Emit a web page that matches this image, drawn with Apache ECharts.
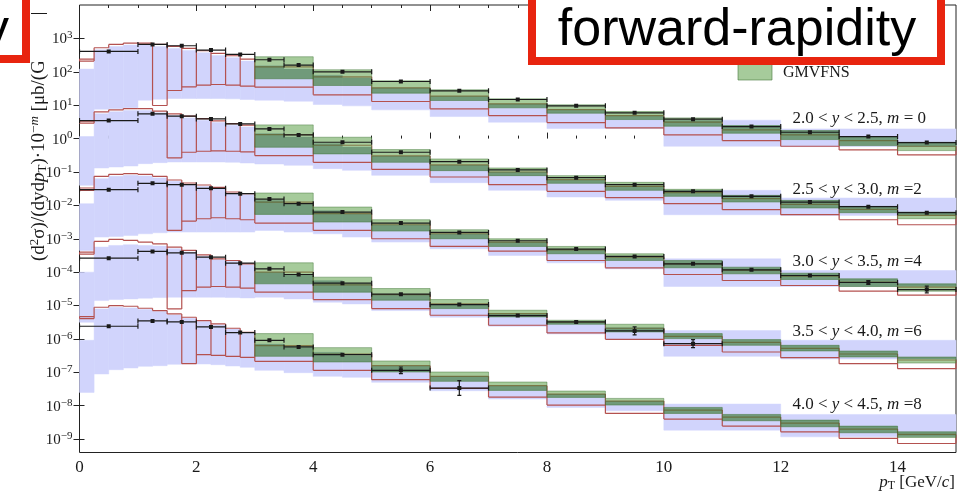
<!DOCTYPE html>
<html><head><meta charset="utf-8">
<script src="https://cdn.jsdelivr.net/npm/echarts@6/dist/echarts.min.js"></script>
<style>html,body{margin:0;padding:0;background:#fff;}#c{width:968px;height:493px;}</style>
</head><body><div id="c"></div>
<script>
// ---------------- values (log10 of σ·10^-m) ----------------
const xTickLabels = [0, 2, 4, 6, 8, 10, 12, 14];
const yTickExponents = [-9, -8, -7, -6, -5, -4, -3, -2, -1, 0, 1, 2, 3];

const dataEdges  = [0,1,1.5,2,2.5,3,3.5,4,5,6,7,8,9,10,11,12,13,14,15];
const redEdges   = [0,0.25,0.5,0.75,1,1.25,1.5,1.75,2,2.25,2.5,2.75,3,4,5,6,7,8,9,10,11,12,13,14,15];
const blueEdges  = [0,0.25,0.5,0.75,1,1.25,1.5,1.75,2,2.25,2.5,2.75,3,3.5,4,4.5,5,6,7,8,9,10,12,15];
const greenEdges = [3,4,5,6,7,8,9,10,11,12,13,14,15];

const rapidityLabels = [
  '2.0 < {i|y} < 2.5, {i|m} = 0',
  '2.5 < {i|y} < 3.0, {i|m} =2',
  '3.0 < {i|y} < 3.5, {i|m} =4',
  '3.5 < {i|y} < 4.0, {i|m} =6',
  '4.0 < {i|y} < 4.5, {i|m} =8'
];

// measured points (log10), one per data bin
const dataY20 = [2.61, 2.82, 2.78, 2.65, 2.52, 2.36, 2.20, 2.00, 1.71, 1.43, 1.17, 0.98, 0.77, 0.58, 0.36, 0.19, 0.06, -0.12];
const dataY25 = [0.54, 0.74, 0.67, 0.59, 0.44, 0.29, 0.11, -0.11, -0.41, -0.69, -0.94, -1.17, -1.38, -1.58, -1.73, -1.90, -2.04, -2.22];
const dataY30 = [-1.53, -1.34, -1.38, -1.49, -1.65, -1.81, -1.95, -2.20, -2.53, -2.81, -3.06, -3.31, -3.53, -3.75, -3.93, -4.10, -4.31, -4.52];
const dataY35 = [-3.58, -3.38, -3.42, -3.55, -3.73, -3.90, -4.07, -4.33, -4.66, -4.97, -5.30, -5.49, -5.76, -6.14];
const dataY40 = [-5.62, -5.46, -5.49, -5.64, -5.81, -6.04, -6.24, -6.47, -6.94, -7.47];
// error half-widths (decades)
const errY20 = [0.02,0.02,0.02,0.02,0.02,0.02,0.02,0.02,0.02,0.02,0.02,0.02,0.02,0.02,0.02,0.02,0.02,0.02];
const errY25 = [0.02,0.02,0.02,0.02,0.02,0.02,0.02,0.02,0.02,0.02,0.02,0.02,0.02,0.02,0.02,0.03,0.03,0.03];
const errY30 = [0.02,0.02,0.02,0.02,0.02,0.02,0.02,0.02,0.02,0.02,0.02,0.03,0.03,0.03,0.04,0.04,0.06,0.10];
const errY35 = [0.02,0.02,0.02,0.02,0.02,0.02,0.02,0.03,0.03,0.03,0.04,0.05,0.12,0.12];
const errY40 = [0.02,0.02,0.02,0.02,0.02,0.03,0.03,0.05,0.10,0.22];

// red step/box prediction: top and bottom per redEdges bin (null = no lower edge)
const redTopY20 = [2.38, 2.72, 2.82, 2.86, 2.86, 2.82, 2.76, 2.70, 2.63, 2.55, 2.48, 2.38, 2.15, 1.85, 1.52, 1.27, 1.04, 0.87, 0.69, 0.49, 0.26, 0.11, -0.06, -0.23];
const redBotY20 = [2.32, null, null, null, null, 0.99, 1.44, 1.55, 1.60, 1.62, 1.60, 1.57, 1.54, 1.31, 1.11, 0.89, 0.69, 0.48, 0.32, 0.11, -0.06, -0.23, -0.34, -0.49];
const redTopY25 = [0.52, 0.80, 0.86, 0.90, 0.90, 0.82, 0.74, 0.67, 0.60, 0.53, 0.45, 0.40, 0.12, -0.20, -0.52, -0.79, -1.00, -1.23, -1.43, -1.62, -1.80, -1.97, -2.12, -2.30];
const redBotY25 = [0.46, null, null, null, null, null, -0.58, -0.41, -0.38, -0.37, -0.38, -0.40, -0.51, -0.71, -0.92, -1.15, -1.38, -1.58, -1.77, -1.95, -2.13, -2.28, -2.43, -2.58];
const redTopY30 = [-1.48, -1.13, -1.07, -1.05, -1.07, -1.13, -1.24, -1.33, -1.39, -1.46, -1.60, -1.65, -1.90, -2.25, -2.58, -2.85, -3.10, -3.33, -3.55, -3.75, -3.94, -4.12, -4.30, -4.45];
const redBotY30 = [-1.55, null, null, null, null, null, -2.75, -2.47, -2.40, -2.37, -2.40, -2.43, -2.53, -2.75, -3.00, -3.23, -3.37, -3.65, -3.87, -4.07, -4.25, -4.40, -4.57, -4.69];
const redTopY35 = [-3.40, -3.08, -3.02, -3.05, -3.10, -3.15, -3.25, -3.35, -3.48, -3.60, -3.65, -3.75, -4.00, -4.38, -4.67, -4.95, -5.24, -5.50, -5.68, -5.92, -6.10, -6.28, -6.45, -6.63];
const redBotY35 = [-3.46, null, null, null, null, null, -5.10, -4.55, -4.45, -4.43, -4.45, -4.48, -4.60, -4.82, -5.09, -5.29, -5.59, -5.82, -6.01, -6.19, -6.39, -6.56, -6.74, -6.89];
const redTopY40 = [-5.33, -5.05, -5.00, -5.02, -5.08, -5.15, -5.25, -5.35, -5.45, -5.55, -5.68, -5.80, -6.20, -6.45, -6.80, -7.12, -7.40, -7.65, -7.86, -8.13, -8.34, -8.52, -8.70, -8.86];
const redBotY40 = [-5.39, null, null, null, null, null, null, -6.74, -6.47, -6.49, -6.52, -6.55, -6.67, -6.94, -7.22, -7.48, -7.74, -7.98, -8.23, -8.40, -8.61, -8.78, -8.98, -9.13];

// blue band: lower / upper edge per blueEdges bin
const blueHiY20 = [2.08, 2.66, 2.76, 2.80, 2.80, 2.76, 2.70, 2.64, 2.57, 2.49, 2.42, 2.32, 2.18, 2.08, 1.90, 1.82, 1.52, 1.27, 1.04, 0.87, 0.69, 0.55, 0.29];
const blueLoY20 = [0.54, 0.88, 0.90, 0.92, 1.15, 1.18, 1.20, 1.20, 1.20, 1.20, 1.19, 1.17, 1.15, 1.12, 1.02, 0.98, 0.86, 0.66, 0.49, 0.30, 0.30, -0.23, -0.24];
const blueHiY25 = [0.06, 0.74, 0.80, 0.84, 0.84, 0.77, 0.69, 0.62, 0.55, 0.48, 0.40, 0.35, 0.15, 0.05, -0.15, -0.25, -0.52, -0.79, -1.00, -1.23, -1.43, -1.55, -1.78];
const blueLoY25 = [-1.40, -0.88, -0.85, -0.82, -0.75, -0.72, -0.70, -0.70, -0.70, -0.70, -0.71, -0.73, -0.76, -0.80, -0.90, -0.95, -1.10, -1.32, -1.55, -1.75, -1.85, -2.28, -2.30];
const blueHiY30 = [-1.95, -1.20, -1.13, -1.10, -1.12, -1.18, -1.28, -1.37, -1.43, -1.50, -1.63, -1.68, -1.85, -1.97, -2.15, -2.25, -2.58, -2.85, -3.10, -3.33, -3.55, -3.60, -3.95];
const blueLoY30 = [-3.35, -2.95, -2.93, -2.90, -2.85, -2.82, -2.80, -2.80, -2.80, -2.80, -2.80, -2.80, -2.75, -2.80, -2.85, -2.95, -3.10, -3.30, -3.50, -3.72, -3.90, -4.43, -4.43];
const blueHiY35 = [-4.00, -3.25, -3.20, -3.18, -3.20, -3.22, -3.30, -3.40, -3.52, -3.63, -3.68, -3.78, -4.00, -4.08, -4.25, -4.35, -4.67, -4.95, -5.24, -5.48, -5.66, -5.75, -6.04];
const blueLoY35 = [-5.50, -4.85, -4.82, -4.80, -4.78, -4.76, -4.75, -4.75, -4.75, -4.75, -4.76, -4.77, -4.75, -4.80, -4.90, -4.95, -5.15, -5.35, -5.62, -5.85, -6.00, -6.52, -6.60];
const blueHiY40 = [-6.04, -5.10, -5.05, -5.07, -5.12, -5.18, -5.28, -5.38, -5.48, -5.58, -5.70, -5.83, -6.15, -6.25, -6.40, -6.50, -6.80, -7.12, -7.40, -7.65, -7.86, -7.95, -8.26];
const blueLoY40 = [-7.60, -7.05, -6.92, -6.87, -6.82, -6.80, -6.76, -6.74, -6.75, -6.77, -6.81, -6.85, -6.94, -7.01, -7.12, -7.15, -7.30, -7.55, -7.80, -8.05, -8.15, -8.73, -8.93];

// GMVFNS green band: lower / upper edge per greenEdges bin
const greenLoY20 = [1.79, 1.59, 1.36, 1.14, 0.92, 0.76, 0.57, 0.37, 0.16, -0.03, -0.21, -0.36];
const greenHiY20 = [2.45, 2.06, 1.73, 1.46, 1.19, 1.01, 0.81, 0.62, 0.39, 0.24, 0.06, -0.11];
const greenLoY25 = [-0.26, -0.46, -0.71, -0.96, -1.11, -1.34, -1.55, -1.73, -1.90, -2.08, -2.22, -2.40];
const greenHiY25 = [0.41, 0.04, -0.33, -0.61, -0.88, -1.11, -1.31, -1.52, -1.70, -1.85, -2.03, -2.20];
const greenLoY30 = [-2.27, -2.50, -2.77, -3.00, -3.23, -3.45, -3.65, -3.87, -4.05, -4.22, -4.43, -4.57];
const greenHiY30 = [-1.63, -2.05, -2.43, -2.73, -3.00, -3.23, -3.45, -3.65, -3.85, -4.03, -4.20, -4.35];
const greenLoY35 = [-4.35, -4.60, -4.84, -5.09, -5.34, -5.56, -5.79, -5.99, -6.19, -6.36, -6.54, -6.72];
const greenHiY35 = [-3.72, -4.15, -4.49, -4.82, -5.14, -5.44, -5.56, -5.84, -6.02, -6.19, -6.36, -6.54];
const greenLoY40 = [-6.52, -6.69, -6.99, -7.27, -7.54, -7.75, -7.98, -8.23, -8.45, -8.63, -8.81, -8.95];
const greenHiY40 = [-5.84, -6.26, -6.66, -6.99, -7.29, -7.56, -7.78, -8.05, -8.26, -8.43, -8.61, -8.78];

// ---------------- styling / layout ----------------
const labelAnchorX = 12.2;
const labelAnchorLogY = [0.60, -1.52, -3.68, -5.77, -7.96];

const BLUE = '#d1d4fc';
const RED = '#b4514f';
const GREEN = 'rgba(92,160,72,0.55)', GREEN_EDGE = 'rgba(70,120,60,0.6)';
const OVERLAP = 'rgba(30,80,40,0.28)';
const INK = '#1a1a1a';
const SERIF = '"Liberation Serif","DejaVu Serif",serif';

const sets = [
  {data: dataY20, err: errY20, rt: redTopY20, rb: redBotY20, bh: blueHiY20, bl: blueLoY20, gl: greenLoY20, gh: greenHiY20},
  {data: dataY25, err: errY25, rt: redTopY25, rb: redBotY25, bh: blueHiY25, bl: blueLoY25, gl: greenLoY25, gh: greenHiY25},
  {data: dataY30, err: errY30, rt: redTopY30, rb: redBotY30, bh: blueHiY30, bl: blueLoY30, gl: greenLoY30, gh: greenHiY30},
  {data: dataY35, err: errY35, rt: redTopY35, rb: redBotY35, bh: blueHiY35, bl: blueLoY35, gl: greenLoY35, gh: greenHiY35},
  {data: dataY40, err: errY40, rt: redTopY40, rb: redBotY40, bh: blueHiY40, bl: blueLoY40, gl: greenLoY40, gh: greenHiY40}
];

function rectPx(api, x0, x1, lo, hi) {
  const a = api.coord([x0, hi]), b = api.coord([x1, lo]);
  return {x: a[0], y: a[1], width: b[0] - a[0], height: b[1] - a[1]};
}
function binItems(edges, vals) {
  return vals.map((v, i) => [ (edges[i] + edges[i + 1]) / 2, v ]);
}

const series = [];
sets.forEach((s, k) => {
  // blue band
  series.push({
    type: 'custom', name: 'blue' + k, z: 1, clip: true,
    data: binItems(blueEdges, s.bh),
    renderItem: (params, api) => {
      const i = params.dataIndex;
      return {type: 'rect', shape: rectPx(api, blueEdges[i], blueEdges[i + 1], s.bl[i], s.bh[i]),
              style: {fill: BLUE, stroke: BLUE, lineWidth: 0.5}};
    }
  });
  // red step boxes
  series.push({
    type: 'custom', name: 'red' + k, z: 2, clip: true,
    data: binItems(redEdges, s.rt),
    renderItem: (params, api) => {
      const i = params.dataIndex;
      const x0 = redEdges[i], x1 = redEdges[i + 1];
      const top = s.rt[i], bot = s.rb[i];
      const st = {stroke: RED, lineWidth: 1.2, fill: null};
      const c = [];
      const pT0 = api.coord([x0, top]), pT1 = api.coord([x1, top]);
      c.push({type: 'line', shape: {x1: pT0[0], y1: pT0[1], x2: pT1[0], y2: pT1[1]}, style: st});
      if (bot !== null) {
        const pb = api.coord([x1, bot]);
        c.push({type: 'line', shape: {x1: pT0[0], y1: pb[1], x2: pT1[0], y2: pb[1]}, style: st});
      }
      let vals = [top, bot === null ? top : bot];
      if (i > 0) { vals.push(s.rt[i - 1]); vals.push(s.rb[i - 1] === null ? s.rt[i - 1] : s.rb[i - 1]); }
      const vy0 = api.coord([x0, Math.max(...vals)])[1], vy1 = api.coord([x0, Math.min(...vals)])[1];
      if (vy1 - vy0 > 0.5) c.push({type: 'line', shape: {x1: pT0[0], y1: vy0, x2: pT0[0], y2: vy1}, style: st});
      if (i === redEdges.length - 2 && bot !== null) {
        const ry0 = api.coord([x1, top])[1], ry1 = api.coord([x1, bot])[1];
        c.push({type: 'line', shape: {x1: pT1[0], y1: ry0, x2: pT1[0], y2: ry1}, style: st});
      }
      return {type: 'group', children: c};
    }
  });
  // green GMVFNS band
  series.push({
    type: 'custom', name: 'GMVFNS' + k, z: 3, clip: true,
    data: binItems(greenEdges, s.gh),
    renderItem: (params, api) => {
      const i = params.dataIndex;
      const gx0 = greenEdges[i], gx1 = greenEdges[i + 1], gl = s.gl[i], gh = s.gh[i];
      const c = [{type: 'rect', shape: rectPx(api, gx0, gx1, gl, gh), style: {fill: GREEN, stroke: GREEN_EDGE, lineWidth: 0.8}}];
      for (let b = 0; b < blueEdges.length - 1; b++) {
        const bx0 = Math.max(blueEdges[b], gx0), bx1 = Math.min(blueEdges[b + 1], gx1);
        if (bx1 <= bx0) continue;
        const lo = Math.max(s.bl[b], gl), hi = Math.min(s.bh[b], gh);
        if (hi <= lo) continue;
        c.push({type: 'rect', shape: rectPx(api, bx0, bx1, lo, hi), style: {fill: OVERLAP}});
      }
      return {type: 'group', children: c};
    }
  });
  // data points
  series.push({
    type: 'custom', name: 'data' + k, z: 4, clip: true,
    data: binItems(dataEdges.slice(0, s.data.length + 1), s.data),
    renderItem: (params, api) => {
      const i = params.dataIndex;
      const v = s.data[i], e = s.err[i];
      const a = api.coord([dataEdges[i], v]), b = api.coord([dataEdges[i + 1], v]);
      const y = a[1], xm = (a[0] + b[0]) / 2;
      const st = {stroke: INK, lineWidth: 1.2};
      const c = [
        {type: 'line', shape: {x1: a[0], y1: y, x2: b[0], y2: y}, style: st},
        {type: 'line', shape: {x1: a[0], y1: y - 2.5, x2: a[0], y2: y + 2.5}, style: st},
        {type: 'line', shape: {x1: b[0], y1: y - 2.5, x2: b[0], y2: y + 2.5}, style: st},
        {type: 'rect', shape: {x: xm - 2, y: y - 2, width: 4, height: 4}, style: {fill: INK}}
      ];
      const yt = api.coord([0, v + e])[1], yb = api.coord([0, v - e])[1];
      if (yb - yt > 4) {
        c.push({type: 'line', shape: {x1: xm, y1: yt, x2: xm, y2: yb}, style: st});
        c.push({type: 'line', shape: {x1: xm - 2, y1: yt, x2: xm + 2, y2: yt}, style: st});
        c.push({type: 'line', shape: {x1: xm - 2, y1: yb, x2: xm + 2, y2: yb}, style: st});
      }
      return {type: 'group', children: c};
    }
  });
});
// rapidity labels
series.push({
  type: 'custom', name: 'labels', z: 6, clip: false,
  data: labelAnchorLogY.map(v => [labelAnchorX, v]),
  renderItem: (params, api) => {
    const p = api.coord([labelAnchorX, labelAnchorLogY[params.dataIndex]]);
    return {type: 'text', x: p[0], y: p[1], style: {
      text: rapidityLabels[params.dataIndex], fill: INK, font: '17px ' + SERIF,
      align: 'left', verticalAlign: 'middle',
      rich: {i: {fontStyle: 'italic', fontSize: 17, fontFamily: SERIF, fill: INK}}
    }};
  }
});

const minorX = [];
for (let v = 0.5; v < 15; v += 0.5) if (v % 2 !== 0) minorX.push(v);

const axisBase = {type: 'value', min: 0, max: 15, axisLine: {show: false}, splitLine: {show: false}};
const yBase = {type: 'value', min: -9.4, max: 4, axisLine: {show: false}, splitLine: {show: false}};
const tickStyle = {color: '#222', width: 1};

const option = {
  backgroundColor: '#fff',
  animation: false,
  grid: {left: 79.5, right: 12, top: 5, bottom: 40.5, show: true, borderColor: '#222', borderWidth: 1, backgroundColor: 'transparent'},
  xAxis: [
    Object.assign({}, axisBase, {position: 'bottom',
      axisTick: {inside: true, length: 6, customValues: xTickLabels, lineStyle: tickStyle},
      axisLabel: {customValues: xTickLabels, fontFamily: SERIF, fontSize: 17, color: INK, margin: 7}}),
    Object.assign({}, axisBase, {position: 'bottom',
      axisTick: {inside: true, length: 3, customValues: minorX, lineStyle: tickStyle}, axisLabel: {show: false}}),
    Object.assign({}, axisBase, {position: 'top',
      axisTick: {inside: true, length: 6, customValues: xTickLabels, lineStyle: tickStyle}, axisLabel: {show: false}}),
    Object.assign({}, axisBase, {position: 'top',
      axisTick: {inside: true, length: 3, customValues: minorX, lineStyle: tickStyle}, axisLabel: {show: false}})
  ],
  yAxis: [
    Object.assign({}, yBase, {position: 'left',
      axisTick: {inside: true, length: 5, customValues: yTickExponents, lineStyle: tickStyle},
      axisLabel: {customValues: yTickExponents, margin: 7,
        formatter: v => '{b|10}{s|' + (v < 0 ? '\u2212' + (-v) : String(v)) + '}',
        rich: {
          b: {fontFamily: SERIF, fontSize: 15, lineHeight: 15, verticalAlign: 'bottom', color: INK},
          s: {fontFamily: SERIF, fontSize: 11, padding: [0, 0, 6, 0], verticalAlign: 'top', color: INK}
        }}}),
    Object.assign({}, yBase, {position: 'right',
      axisTick: {inside: true, length: 6, customValues: yTickExponents, lineStyle: tickStyle}, axisLabel: {show: false}})
  ],
  series: series,
  graphic: [
    // y-axis title
    {type: 'text', x: 39, y: 261, rotation: Math.PI / 2, z: 10, style: {
      text: '(d{sup|2}σ)/(dyd{i|p}{sub|T})·10{sup|\u2212}{supi|m} [μb/(GeV/{i|c})]',
      font: '19px ' + SERIF, fill: INK, align: 'left', verticalAlign: 'middle',
      rich: {
        sup: {fontSize: 13, fontFamily: SERIF, verticalAlign: 'top', padding: [0, 0, 8, 0], fill: INK},
        supi: {fontSize: 13, fontFamily: SERIF, fontStyle: 'italic', verticalAlign: 'top', padding: [0, 0, 8, 0], fill: INK},
        sub: {fontSize: 13, fontFamily: SERIF, verticalAlign: 'bottom', padding: [8, 0, 0, 0], fill: INK},
        i: {fontSize: 19, fontFamily: SERIF, fontStyle: 'italic', fill: INK}
      }}},
    // x-axis title
    {type: 'text', right: 13, top: 474, z: 10, style: {
      text: '{i|p}{sub|T} [GeV/{i|c}]', font: '17px ' + SERIF, fill: INK,
      rich: {
        i: {fontSize: 17, fontFamily: SERIF, fontStyle: 'italic', fill: INK},
        sub: {fontSize: 12, fontFamily: SERIF, verticalAlign: 'bottom', padding: [7, 0, 0, 0], fill: INK}
      }}},
    // legend entry
    {type: 'rect', z: 10, shape: {x: 738, y: 64, width: 34, height: 16}, style: {fill: GREEN, stroke: GREEN_EDGE, lineWidth: 1}},
    {type: 'text', z: 10, x: 783, y: 73, style: {text: 'GMVFNS', font: '16px ' + SERIF, fill: INK, align: 'left', verticalAlign: 'middle'}},
    // slide overlay boxes (cover the chart's top corners)
    {type: 'rect', z: 19, shape: {x: 29, y: 14, width: 20, height: 48}, style: {fill: '#fff'}},
    {type: 'rect', z: 20, shape: {x: 532, y: -20, width: 409, height: 81}, style: {fill: '#fff', stroke: '#e8240f', lineWidth: 8}},
    {type: 'text', z: 21, x: 737, y: 31, style: {text: 'forward-rapidity', font: '52px "Liberation Sans", Arial, sans-serif', fill: '#000', align: 'center', verticalAlign: 'middle'}},
    {type: 'rect', z: 20, shape: {x: -40, y: -20, width: 66, height: 79}, style: {fill: '#fff', stroke: '#e8240f', lineWidth: 8}},
    {type: 'text', z: 21, x: 9, y: 31, style: {text: 'rapidity', font: '52px "Liberation Sans", Arial, sans-serif', fill: '#000', align: 'right', verticalAlign: 'middle'}}
  ]
};

const chart = echarts.init(document.getElementById('c'), null, {renderer: 'canvas'});
chart.setOption(option);
</script></body></html>
